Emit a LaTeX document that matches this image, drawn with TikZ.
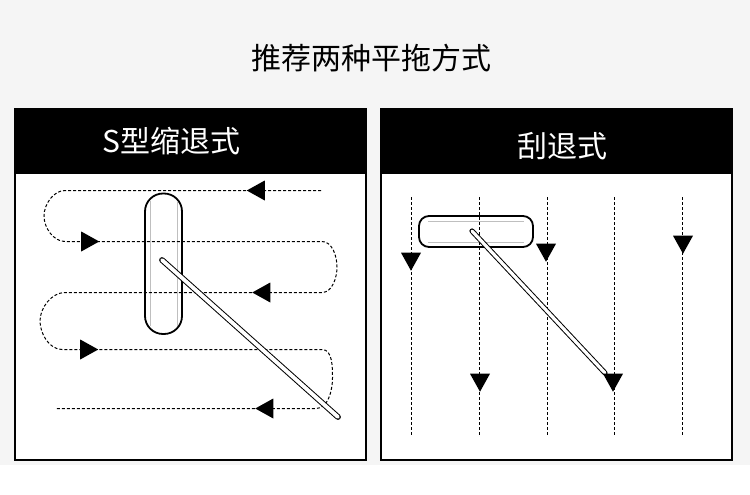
\documentclass[tikz,border=0pt]{standalone}
\usepackage{fontspec}
\usepackage{tikz}
\usetikzlibrary{shapes.geometric}
\newfontfamily\cjk{Noto Sans CJK SC}
\definecolor{pagegrey}{HTML}{F5F5F5}
\tikzset{
  panel/.style={draw=black,fill=white,line width=2.4pt},
  bar/.style={fill=black},
  headtext/.style={text=white,font=\cjk\fontsize{30}{30}\selectfont,inner sep=0pt},
  trail/.style={draw=black,line width=1pt,dash pattern=on 3pt off 2pt},
  mophead/.style={draw=black,fill=white,line width=1.8pt},
  mopedge/.style={draw=black!25,line width=1pt},
  mophandle/.style={draw=black,double=white,line width=1pt,line cap=round},
  tip/.style={fill=black,isosceles triangle,isosceles triangle apex angle=90,
    isosceles triangle stretches,inner sep=0pt,minimum width=20pt,minimum height=18pt,anchor=apex},
  tipleft/.style={tip,shape border rotate=180},
  tipright/.style={tip,shape border rotate=0},
  tipdown/.style={tip,shape border rotate=270}
}
\begin{document}
\begin{tikzpicture}[x=1pt,y=-1pt]
    \useasboundingbox (0,0) rectangle (750,495);
    \fill[pagegrey] (0,0) rectangle (750,465);
    \node[inner sep=0pt,font=\cjk\fontsize{30}{30}\selectfont] (title) at (371,58) {推荐两种平拖方式};

    % left panel
    \draw[panel] (15.2,109.2) rectangle (365.8,459.8);
    \fill[bar] (14,108) rectangle (367,174);
    \node[headtext] (stitle) at (171.5,141) {S型缩退式};
    \draw[mophead] (145,193.5) [rounded corners=18pt] rectangle (182,334);
    \draw[mopedge] (150,201) -- (150,326);
    \draw[mopedge] (177,201) -- (177,326);
    \coordinate (s0) at (321,190.5);
    \coordinate (s1) at (65,190.5);
    \coordinate (s2) at (65,241.5);
    \coordinate (s3) at (322,241.5);
    \coordinate (s4) at (322,292.5);
    \coordinate (s5) at (65,292.5);
    \coordinate (s6) at (62,349.5);
    \coordinate (s7) at (322,349.5);
    \coordinate (s8) at (316,408.5);
    \coordinate (s9) at (55,408.5);
    \draw[trail] (s0) -- (s1) to[out=180,in=90,looseness=0.9] (44,216) to[out=270,in=180,looseness=0.9] (s2) -- (s3)
        to[out=0,in=90,looseness=0.9] (337,267) to[out=270,in=0,looseness=0.9] (s4) -- (s5)
        to[out=180,in=90,looseness=0.9] (40,321) to[out=270,in=180,looseness=0.9] (s6) -- (s7)
        to[out=0,in=90,looseness=0.9] (332.5,378) to[out=270,in=0,looseness=0.9] (s8) -- (s9);
    \node[tipleft] (a1) at (246.5,190.5) {};
    \node[tipright] (a2) at (99.5,241.5) {};
    \node[tipleft] (a3) at (252,292.5) {};
    \node[tipright] (a4) at (98.5,349.5) {};
    \node[tipleft] (a5) at (255,408.5) {};
    \coordinate (shandle) at (162,260);
    \coordinate (sgrip) at (338,417);
    \draw[mophandle,double distance=3.8pt] (shandle) -- (sgrip);

    % right panel
    \draw[panel] (381.2,109.2) rectangle (731.8,459.8);
    \fill[bar] (380,108) rectangle (733,174);
    \node[headtext] (rtitle) at (562,146) {刮退式};
    \draw[mophead] (419,216) [rounded corners=10pt] rectangle (533,247);
    \draw[mopedge] (428,221) -- (524,221);
    \draw[mopedge] (428,242) -- (524,242);
    \foreach \name/\xx in {b/411.5,c/479.5,d/547.5,e/614.5,f/682.5}{
        \coordinate (\name top) at (\xx,197);
        \coordinate (\name end) at (\xx,435);
        \draw[trail] (\name top) -- (\name end);
    }
    \coordinate (rhandle) at (472,231);
    \coordinate (rgrip) at (605,373);
    \draw[mophandle,double distance=3.2pt] (rhandle) -- (rgrip);
    \foreach \name/\xx/\yy in {b/411/271,c/480/392,d/546/262,e/613/392,f/683/254}{
        \node[tipdown] (\name tip) at (\xx,\yy) {};
    }
\end{tikzpicture}
\end{document}
